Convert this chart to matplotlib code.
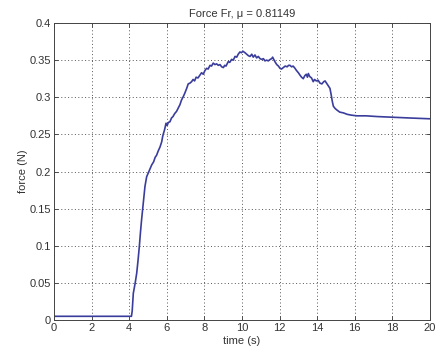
import matplotlib
matplotlib.use("Agg")
import matplotlib.pyplot as plt

# ---------------------------------------------------------------------------
# Data
# ---------------------------------------------------------------------------
time_s = [
    0.00, 4.12, 4.16, 4.22, 4.32, 4.40, 4.47, 4.54, 4.60, 4.66, 4.75, 4.84,
    4.93, 5.05, 5.20, 5.30, 5.38, 5.46, 5.55, 5.64, 5.73, 5.78, 5.82, 5.88,
    5.96, 6.02, 6.08, 6.17, 6.25, 6.33, 6.42, 6.52, 6.60, 6.70, 6.78, 6.88,
    6.95, 7.06, 7.14, 7.23, 7.32, 7.40, 7.48, 7.56, 7.66, 7.77, 7.85, 7.94,
    8.03, 8.12, 8.20, 8.30, 8.38, 8.47, 8.56, 8.65, 8.74, 8.83, 8.92, 9.01,
    9.08, 9.15, 9.27, 9.35, 9.45, 9.54, 9.63, 9.72, 9.80, 9.89, 9.97, 10.05,
    10.16, 10.25, 10.34, 10.43, 10.52, 10.60, 10.69, 10.78, 10.87, 10.96,
    11.05, 11.14, 11.22, 11.31, 11.40, 11.50, 11.58, 11.63, 11.67, 11.75,
    11.85, 11.94, 12.02, 12.10, 12.20, 12.30, 12.40, 12.48, 12.55, 12.64,
    12.72, 12.82, 12.90, 13.00, 13.08, 13.17, 13.26, 13.34, 13.42, 13.48,
    13.53, 13.60, 13.70, 13.79, 13.86, 13.95, 14.05, 14.15, 14.25, 14.35,
    14.42, 14.50, 14.58, 14.68, 14.74, 14.80, 14.86, 14.95, 15.04, 15.20,
    15.39, 15.60, 15.80, 16.10, 16.60, 17.20, 18.05, 19.00, 20.00,
]
force_n = [
    0.005, 0.005, 0.012, 0.036, 0.050, 0.063, 0.080, 0.099, 0.118, 0.135, 0.157, 0.180,
    0.193, 0.200, 0.209, 0.213, 0.219, 0.222, 0.228, 0.233, 0.240, 0.247, 0.251, 0.256,
    0.265, 0.262, 0.266, 0.267, 0.272, 0.274, 0.278, 0.281, 0.285, 0.290, 0.296, 0.301,
    0.305, 0.312, 0.318, 0.319, 0.321, 0.324, 0.322, 0.327, 0.326, 0.330, 0.333, 0.331,
    0.336, 0.339, 0.338, 0.343, 0.342, 0.346, 0.344, 0.345, 0.343, 0.344, 0.341, 0.340,
    0.343, 0.342, 0.348, 0.347, 0.351, 0.350, 0.355, 0.354, 0.358, 0.361, 0.360, 0.362,
    0.360, 0.358, 0.356, 0.355, 0.358, 0.354, 0.357, 0.353, 0.355, 0.352,
    0.351, 0.352, 0.349, 0.350, 0.349, 0.351, 0.352, 0.354, 0.352, 0.348,
    0.344, 0.342, 0.339, 0.338, 0.340, 0.342, 0.341, 0.343, 0.343, 0.341,
    0.342, 0.339, 0.336, 0.333, 0.330, 0.327, 0.325, 0.329, 0.331, 0.327,
    0.332, 0.328, 0.326, 0.321, 0.324, 0.322, 0.323, 0.319, 0.318, 0.321,
    0.322, 0.319, 0.316, 0.312, 0.304, 0.295, 0.288, 0.285, 0.283, 0.280,
    0.279, 0.277, 0.276, 0.275, 0.275, 0.274, 0.273, 0.272, 0.271,
]

x_ticks = [0, 2, 4, 6, 8, 10, 12, 14, 16, 18, 20]
y_ticks = [0, 0.05, 0.1, 0.15, 0.2, 0.25, 0.3, 0.35, 0.4]
y_tick_labels = ["0", "0.05", "0.1", "0.15", "0.2", "0.25", "0.3", "0.35", "0.4"]

LINE_COLOR = "#3a3d9c"

plt.rcParams.update({
    "font.family": ["Liberation Sans", "DejaVu Sans"],
    "font.size": 8,
})

# ---------------------------------------------------------------------------
# Plot
# ---------------------------------------------------------------------------
fig = plt.figure(figsize=(4.41, 3.54), dpi=100)
fig.patch.set_facecolor("white")
ax = fig.add_axes([0.1224, 0.096, 0.8526, 0.839])

ax.plot(time_s, force_n, color=LINE_COLOR, linewidth=1.2)

ax.set_xlim(0, 20)
ax.set_ylim(0, 0.4)
ax.set_xticks(x_ticks)
ax.set_yticks(y_ticks)
ax.set_yticklabels(y_tick_labels)

ax.grid(True, linestyle=(0, (1, 2.5)), color="#555555", linewidth=0.7)
ax.tick_params(direction="in", top=True, right=True, length=3,
               width=0.6, labelsize=8, colors="#333333", pad=2)
for sp in ax.spines.values():
    sp.set_linewidth(0.7)
    sp.set_color("#444444")

ax.set_xlabel("time (s)", fontsize=8, labelpad=2, color="#333333")
ax.set_ylabel("force (N)", fontsize=8, labelpad=1, color="#333333")
ax.set_title("Force Fr, μ = 0.81149", fontsize=8, pad=4, color="#333333")

fig.savefig("out.png", dpi=100, facecolor="white")
plt.close(fig)
